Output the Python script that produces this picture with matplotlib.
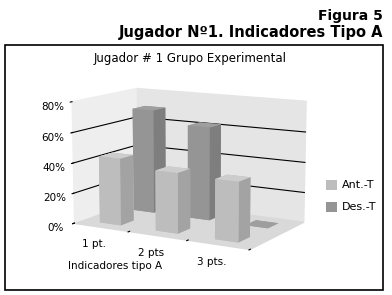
import numpy as np
import matplotlib
matplotlib.use('Agg')
import matplotlib.pyplot as plt
from matplotlib.patches import Patch, Rectangle

# datos
categorias = ['1 pt.', '2 pts', '3 pts.']
series = ['Ant.-T', 'Des.-T']
ant_t = [44, 39, 38]
des_t = [70, 62, 0]
z_ticks = [0, 20, 40, 60, 80]
colores = ['#bdbdbd', '#959595']
# caras: abajo, arriba, frente, fondo, izquierda, derecha
caras = [['#bdbdbd', '#cdcdcd', '#bdbdbd', '#bdbdbd', '#bdbdbd', '#a3a3a3'],
         ['#959595', '#9e9e9e', '#959595', '#959595', '#959595', '#7e7e7e']]

fig = plt.figure(figsize=(3.92, 2.95), dpi=100)

# titulos de la figura
fig.text(383/392, 1 - 20/295, 'Figura 5', ha='right', va='baseline',
         fontsize=10, fontweight='bold')
fig.text(383/392, 1 - 37/295, 'Jugador Nº1. Indicadores Tipo A', ha='right',
         va='baseline', fontsize=10.5, fontweight='bold')

# marco del grafico
fig.patches.append(Rectangle((5/392, 1 - 290/295), 378/392, 245/295,
                             transform=fig.transFigure, fill=False,
                             edgecolor='black', lw=1.2))
fig.text(190/392, 1 - 62/295, 'Jugador # 1 Grupo Experimental', ha='center',
         va='baseline', fontsize=8.5, family='Liberation Sans Narrow')

ax = fig.add_axes([0.008, -0.014, 0.93, 0.9], projection='3d',
                  proj_type='persp', focal_length=0.8)
ax.view_init(elev=11, azim=-60)

x = np.arange(len(categorias))
w = 0.38
for i, (vals, fc) in enumerate(zip([ant_t, des_t], caras)):
    ax.bar3d(x - w/2, np.full(len(x), i) - w/2, np.zeros(len(x)),
             w, w, vals, color=fc * len(x), shade=False, edgecolor='none')

y0, y1 = -0.45, 1.45
ax.set_xlim(-0.5, len(categorias) - 0.5)
ax.set_ylim(y0, y1)
ax.set_zlim(0, 80)
ax.set_box_aspect((2.66, 1.6, 1.65), zoom=0.962)

# paneles: suelo, pared izquierda y pared del fondo
ax.zaxis.set_pane_color('#d9d9d9')
ax.xaxis.set_pane_color('#eeeeee')
ax.yaxis.set_pane_color('#e5e5e5')
ax.grid(False)

# lineas de division en las paredes
for z in z_ticks[1:-1]:
    ax.plot([-0.5, -0.5], [y0, y1], [z, z], color='black', lw=0.8)
    ax.plot([-0.5, len(categorias) - 0.5], [y1, y1], [z, z],
            color='black', lw=0.8)

# marcas entre categorias y etiquetas centradas
ax.set_xticks(np.arange(len(categorias) + 1) - 0.5)
ax.set_xticklabels([])
for xi, lab in zip(x, categorias):
    ax.text(xi, y0 - 0.2, -6, lab, ha='center', va='top', fontsize=7.5,
            family='Liberation Sans Narrow')
ax.set_yticks([])
ax.set_zticks(z_ticks)
ax.set_zticklabels([f'{t}%' for t in z_ticks], fontsize=7.5,
                   family='Liberation Sans Narrow')
ax.zaxis.set_ticks_position('lower')
ax.set_xlabel('')
ax.set_ylabel('')
ax.set_zlabel('')
for a in (ax.xaxis, ax.yaxis, ax.zaxis):
    a.line.set_color((0, 0, 0, 0))
    a.label.set_visible(False)
    a.offsetText.set_visible(False)
ax.tick_params(axis='both', pad=0, length=3)

fig.text(115/392, 1 - 269/295, 'Indicadores tipo A', ha='center',
         va='baseline', fontsize=7.5, family='Liberation Sans Narrow')

handles = [Patch(facecolor=c, edgecolor='none') for c in colores]
fig.legend(handles, series, loc='center left',
           bbox_to_anchor=(316/392, 1 - 196/295), frameon=False,
           prop={'family': 'Liberation Sans Narrow', 'size': 8},
           handlelength=1.0, handleheight=1.0, handletextpad=0.4,
           labelspacing=1.0)

fig.savefig('out.png', dpi=100)
